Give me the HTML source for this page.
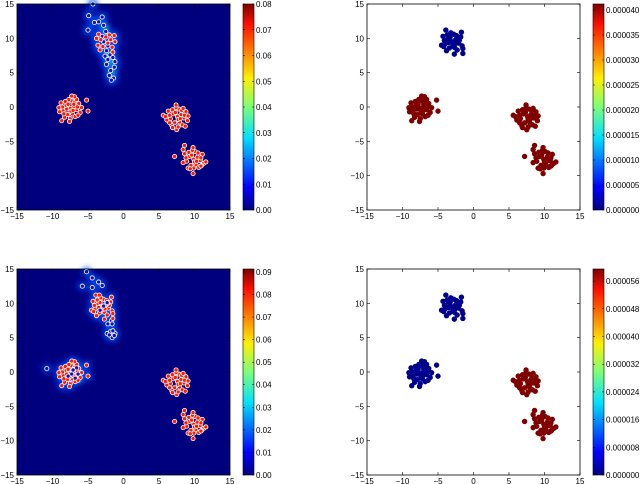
<!DOCTYPE html>
<html><head><meta charset="utf-8"><style>
html,body{margin:0;padding:0;background:#fff;}
svg{display:block;font-family:"Liberation Sans",sans-serif;}
</style></head><body>
<svg id="fig" width="640" height="484" viewBox="0 0 640 484" xmlns="http://www.w3.org/2000/svg">
<defs>
<linearGradient id="jet" x1="0" y1="1" x2="0" y2="0">
<stop offset="0" stop-color="#00007f"/><stop offset="0.11" stop-color="#0000ff"/>
<stop offset="0.35" stop-color="#00e0ff"/><stop offset="0.5" stop-color="#7cff79"/>
<stop offset="0.64" stop-color="#ffef00"/><stop offset="0.9" stop-color="#ff1000"/>
<stop offset="1" stop-color="#7f0000"/></linearGradient>
<filter id="blur" x="-50%" y="-50%" width="200%" height="200%"><feGaussianBlur stdDeviation="3"/></filter>
</defs>
</svg>
<script>
const clusterA=[[-7.5,-0.2],[-7.0,0.1],[-8.1,0.2],[-6.6,-0.4],[-8.5,-0.5],[-7.2,-1.0],[-7.9,-1.1],[-6.3,0.5],[-8.8,0.6],[-7.3,0.9],[-7.7,1.1],[-6.1,-0.8],[-9.0,-0.7],[-6.8,-1.4],[-8.3,-1.5],[-6.9,0.7],[-8.2,0.8],[-6.5,0.0],[-8.6,0.0],[-7.4,-0.6],[-7.8,0.4],[-7.1,-0.5],[-5.9,-0.1],[-9.1,-0.1],[-6.6,1.1],[-8.4,-1.0],[-6.4,-1.2],[-7.5,-1.7],[-8.0,-0.3],[-7.0,0.4],[-5.2,1.0],[-5.0,-0.6],[-8.7,-2.0],[-7.6,-2.1],[-6.9,1.5],[-7.3,1.6]];
const clusterB=[[7.6,-1.4],[8.1,-1.1],[7.0,-1.0],[8.5,-1.6],[6.6,-1.7],[7.9,-2.2],[7.2,-2.3],[8.8,-0.7],[6.3,-0.6],[7.8,-0.3],[7.4,-0.1],[9.0,-2.0],[6.1,-1.9],[8.3,-2.6],[6.8,-2.7],[8.2,-0.5],[6.9,-0.4],[8.6,-1.2],[6.5,-1.2],[7.7,-1.8],[7.3,-0.8],[8.0,-1.7],[9.1,-1.3],[6.9,-3.0],[7.5,-3.3],[8.7,-2.8],[5.6,-1.2],[5.9,-1.4],[7.4,0.3],[8.4,-0.2],[6.5,-2.3],[7.7,-2.9]];
const clusterC=[[9.9,-7.6],[10.4,-7.3],[9.3,-7.2],[10.8,-7.8],[8.9,-7.9],[10.2,-8.4],[9.5,-8.5],[11.1,-6.9],[8.6,-6.8],[10.1,-6.5],[9.7,-6.3],[11.3,-8.2],[8.4,-8.1],[10.6,-8.8],[9.1,-8.9],[10.5,-6.7],[9.2,-6.6],[10.9,-7.4],[8.8,-7.4],[10.0,-8.0],[9.6,-7.0],[10.3,-7.9],[11.6,-8.0],[9.8,-9.7],[9.9,-8.9],[11.0,-8.5],[7.2,-7.2],[8.6,-5.6],[9.8,-5.9],[8.4,-6.2],[10.9,-8.6],[9.4,-9.0]];
const clusterD=[[-3.0,9.5],[-2.5,9.8],[-3.6,9.9],[-2.1,9.3],[-4.0,9.2],[-2.7,8.7],[-3.4,8.6],[-1.8,10.2],[-4.3,10.3],[-2.8,10.6],[-3.2,10.8],[-1.6,8.9],[-4.5,9.0],[-2.3,8.3],[-3.8,8.2],[-2.4,10.4],[-3.7,10.5],[-2.0,9.7],[-4.1,9.7],[-2.9,9.1],[-3.3,10.1],[-2.6,9.2],[-1.5,8.5],[-2.7,7.7],[-3.9,11.2],[-1.7,10.9],[-1.5,7.8],[-4.2,8.8],[-2.2,10.0],[-3.5,9.4]];
const tlBlue=[[-4.3,15],[-4.9,13.3],[-3.0,13.1],[-5.0,11.2],[-4.1,12.3],[-3.5,12.4],[-2.8,11.9],[-2.5,11.0],[-2.8,9.5],[-2.4,8.2],[-1.9,7.6],[-2.2,6.9],[-1.5,7.2],[-2.4,6.2],[-1.3,5.8],[-1.8,5.3],[-2.0,4.6],[-1.4,4.2],[-1.7,3.9],[-1.2,6.6],[-2.6,7.4],[-3.0,10.3],[-2.2,8.9]];
const tlRed=[[-3.8,10.0],[-3.2,9.8],[-2.5,10.2],[-1.8,9.8],[-1.3,10.4],[-3.6,9.0],[-2.9,8.8],[-1.6,8.7],[-3.3,8.3],[-2.2,9.3],[-1.2,9.5],[-2.0,10.5],[-3.5,10.6],[-1.5,8.0]];
const blBlue=[[-5.2,14.6],[-4.4,13.7],[-4.4,12.3],[-5.8,12.5],[-3.5,13.1],[-3.0,12.6],[-1.7,7.5],[-2.2,7.0],[-1.6,7.0],[-2.3,5.6],[-1.8,5.9],[-1.2,5.6],[-1.6,5.0],[-1.3,5.3],[-2.0,5.4],[-1.5,6.0],[-10.8,0.5],[-2.8,9.6],[-3.3,9.0],[-2.3,10.1],[-7.3,-0.3],[-6.8,-0.9],[-7.8,-0.6],[-6.6,0.6],[-7.1,0.3],[-6.4,-0.3]];
const blRed=[[-3.4,11.2]];
const xTicks=[-15,-10,-5,0,5,10,15];
const yTicks=[-15,-10,-5,0,5,10,15];
const cbTL=[0,0.01,0.02,0.03,0.04,0.05,0.06,0.07,0.08];
const cbBL=[0,0.01,0.02,0.03,0.04,0.05,0.06,0.07,0.08,0.09];
const cbTR=[0,5,10,15,20,25,30,35,40];
const cbBR=[0,8,16,24,32,40,48,56];

const svg=document.getElementById('fig');
const NS='http://www.w3.org/2000/svg';
function mk(tag,attrs,parent){const e=document.createElementNS(NS,tag);for(const k in attrs)e.setAttribute(k,attrs[k]);(parent||svg).appendChild(e);return e;}

function panel(id,x0,y0,x1,y1,heat){
  const g=mk('g',{});
  
  
  const sx=v=>x0+(v+15)/30*(x1-x0), sy=v=>y1-(v+15)/30*(y1-y0);
  mk('rect',{x:x0,y:y0,width:x1-x0,height:y1-y0,fill:heat?'#00007f':'#fff'},g);
  const pts=mk('g',{},g);
  
  
  return {g,pts,sx,sy,x0,y0,x1,y1};
}
function frame(p,id){
  const {g,sx,sy,x0,y0,x1,y1}=p;
  mk('rect',{x:x0,y:y0,width:x1-x0,height:y1-y0,fill:'none',stroke:'#000','stroke-width':0.8},g);
  xTicks.forEach(v=>{const x=sx(v);
    mk('line',{x1:x,x2:x,y1:y1,y2:y1-3,stroke:'#000','stroke-width':0.6},g);
    mk('line',{x1:x,x2:x,y1:y0,y2:y0+3,stroke:'#000','stroke-width':0.6},g);
    const t=mk('text',{x:x,y:y1+9,'font-size':8,'text-anchor':'middle'},g);t.textContent=v<0?'\u2212'+(-v):v;
    
    });
  yTicks.forEach(v=>{const y=sy(v);
    mk('line',{x1:x0,x2:x0+3,y1:y,y2:y,stroke:'#000','stroke-width':0.6},g);
    mk('line',{x1:x1,x2:x1-3,y1:y,y2:y,stroke:'#000','stroke-width':0.6},g);
    const t=mk('text',{x:x0-3,y:y+3,'font-size':8,'text-anchor':'end'},g);t.textContent=v<0?'\u2212'+(-v):v;
    
    });
}
function dots(p,arr,fill,stroke,r){
  arr.forEach(d=>{const c=mk('circle',{cx:p.sx(d[0]),cy:p.sy(d[1]),r:r,fill:fill,stroke:stroke,'stroke-width':stroke=='none'?0:0.8},p.pts);
    
    });
}
function glow(p,arr,color,r,op){
  const gg=mk('g',{filter:'url(#blur)',opacity:op},p.pts);
  arr.forEach(d=>mk('circle',{cx:p.sx(d[0]),cy:p.sy(d[1]),r:r,fill:color},gg));
}
function colorbar(id,x,y0,y1,ticks,max,fmt){
  const g=mk('g',{});
  
  
  mk('rect',{x:x,y:y0,width:11,height:y1-y0,fill:'url(#jet)',stroke:'#000','stroke-width':0.6},g);
  ticks.forEach(v=>{const y=y1-v/max*(y1-y0);
    mk('line',{x1:x,x2:x+2,y1:y,y2:y,stroke:'#000','stroke-width':0.5},g);
    mk('line',{x1:x+11,x2:x+9,y1:y,y2:y,stroke:'#000','stroke-width':0.5},g);
    const t=mk('text',{x:x+13,y:y+3,'font-size':8},g);t.textContent=fmt(v);
    
    });
}
const f2=v=>v.toFixed(2), f6=v=>(v*1e-6).toFixed(6);

// top-left
let p=panel('top-left',17,4,230,210,true);
glow(p,tlBlue.concat(tlRed),'#0050ff',5,0.9);
glow(p,[[-2.2,7.5],[-1.8,6.5],[-2.6,11.5],[-1.6,5.0]],'#40ffb0',3,0.8);
dots(p,tlBlue,'#1010c0','#fff',2.1);
dots(p,clusterA.concat(clusterB,clusterC,tlRed),'#ff1a00','#fff',2.1);
frame(p);
colorbar('top-left-colorbar',243,4,210,cbTL,0.08,f2);

// top-right
p=panel('top-right',367,4,580,210,false);
dots(p,clusterD,'#00008f','none',2.7);
dots(p,clusterA.concat(clusterB,clusterC),'#800000','none',2.7);
frame(p);
colorbar('top-right-colorbar',593,4,210,cbTR,41.2,f6);

// bottom-left
p=panel('bottom-left',17,269,230,475,true);
glow(p,blBlue.concat(clusterD,clusterA),'#0050ff',4.5,0.85);
glow(p,[[-6.4,-1.0],[-6.8,0.8],[-1.6,5.5]],'#30e0ff',3,0.8);
dots(p,blBlue,'#1010c0','#fff',2.1);
dots(p,clusterA.concat(clusterB,clusterC,clusterD,blRed),'#ff1a00','#fff',2.1);
dots(p,blBlue.slice(17),'#1010c0','#fff',2.1);
frame(p);
colorbar('bottom-left-colorbar',243,269,475,cbBL,0.0913,f2);

// bottom-right
p=panel('bottom-right',367,269,580,475,false);
dots(p,clusterD,'#00008f','none',2.7);
dots(p,clusterA,'#00008f','none',2.7);
dots(p,clusterB.concat(clusterC),'#800000','none',2.7);
frame(p);
colorbar('bottom-right-colorbar',593,269,475,cbBR,59.5,f6);
</script>
</body></html>
